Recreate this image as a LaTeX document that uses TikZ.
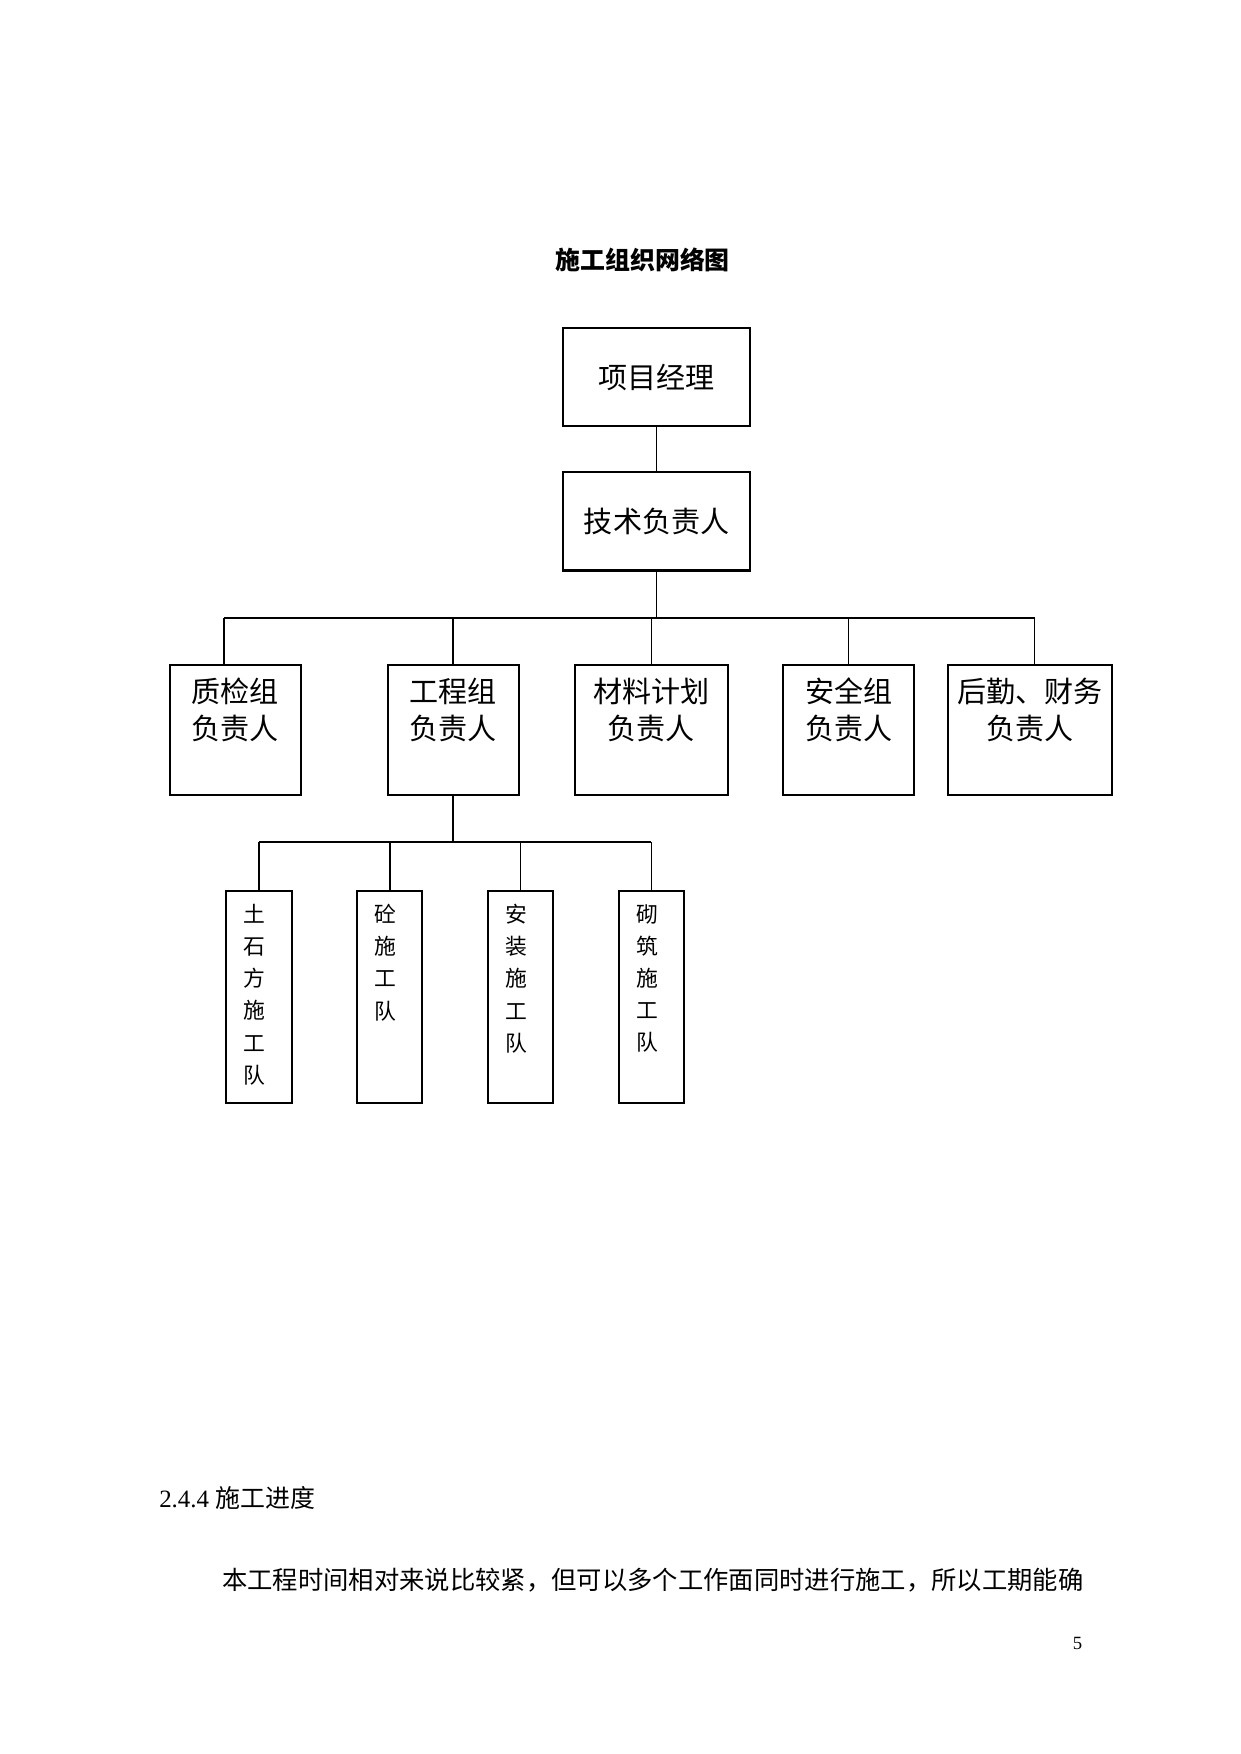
\documentclass[tikz,border=0pt]{standalone}
\usepackage{fontspec}
\setmainfont{Liberation Serif}
\newfontfamily\cjk{Noto Sans CJK SC}
\usetikzlibrary{positioning}

\begin{document}
\begin{tikzpicture}[
		x=0.1692mm, y=-0.1693mm,
		node distance = 8mm and 9.1mm,
		block/.style = {draw, rectangle, line width=1pt, inner sep=0pt, minimum width=31.6mm, minimum height=16.6mm, font=\cjk\fontsize{14}{17}\selectfont},
		group/.style = {draw, rectangle, line width=1pt, inner sep=0pt, minimum width=22.2mm, minimum height=22mm},
		team/.style = {draw, rectangle, line width=1pt, inner sep=0pt, minimum width=11.1mm, minimum height=35.9mm},
		grouptext/.style = {anchor=north, yshift=-2.4mm, inner sep=0pt, align=center, font=\cjk\fontsize{14}{17.8}\selectfont},
		teamtext/.style = {anchor=north, yshift=-2.4mm, xshift=-0.7mm, inner sep=0pt, align=center, font=\cjk\fontsize{10.5}{15.5}\selectfont},
		line/.style = {draw, line width=0.5pt},
		busline/.style = {draw, line width=1pt}
	]

	\fill[white] (0,0) rectangle (1241,1754);

	% Titulo
	\node [font=\cjk\bfseries\fontsize{12}{14}\selectfont] (titulo) at (643,260) {施工组织网络图};

	% Nodos
	\node [block] (pm) at (657,377) {项目经理};
	\node [block, below=7.5mm of pm] (tech) {技术负责人};
	\node [group, minimum width=25.9mm, below=15.6mm of tech, xshift=-0.9mm, label={[grouptext]north:材料计划\\负责人}] (cl) {};
	\node [group, left=of cl, label={[grouptext]north:工程组\\负责人}] (gc) {};
	\node [group, left=14.4mm of gc, label={[grouptext]north:质检组\\负责人}] (zj) {};
	\node [group, right=9mm of cl, label={[grouptext]north:安全组\\负责人}] (aq) {};
	\node [group, minimum width=27.7mm, right=5.4mm of aq, label={[grouptext]north:后勤、财务\\负责人}] (hq) {};
	\node [team, below=15.9mm of cl, label={[teamtext]north:砌\\筑\\施\\工\\队}] (qz) {};
	\node [team, left=10.7mm of qz, label={[teamtext]north:安\\装\\施\\工\\队}] (az) {};
	\node [team, left=10.7mm of az, label={[teamtext]north:砼\\施\\工\\队}] (tong) {};
	\node [team, left=10.7mm of tong, label={[teamtext]north:土\\石\\方\\施\\工\\队}] (ts) {};
	\coordinate [below=7.8mm of tech] (bus);
	\coordinate [below=7.8mm of gc] (subbus);
	\coordinate (zjtop) at ([xshift=-1.9mm]zj.north);
	\coordinate (hqtop) at ([xshift=0.8mm]hq.north);

	% Lineas
	\draw [line] (pm) -- (tech);
	\draw [line] (tech) -- (bus);
	\draw [busline] (zjtop |- bus) -- (hqtop |- bus);
	\draw [busline] (zjtop) -- (zjtop |- bus);
	\draw [busline] (gc) -- (gc |- bus);
	\draw [line] (cl) -- (cl |- bus);
	\draw [line] (aq) -- (aq |- bus);
	\draw [line] (hqtop) -- (hqtop |- bus);
	\draw [busline] (gc) -- (subbus);
	\draw [busline] (ts |- subbus) -- (qz |- subbus);
	\draw [busline] (ts) -- (ts |- subbus);
	\draw [busline] (tong) -- (tong |- subbus);
	\draw [line] (az) -- (az |- subbus);
	\draw [line] (qz) -- (qz |- subbus);

	% Texto
	\node [anchor=west, font=\fontsize{12}{14}\selectfont] (seccion) at (152,1498) {2.4.4 {\cjk 施工进度}};
	\node [anchor=west, font=\cjk\fontsize{12.2}{15}\selectfont] (parrafo) at (215,1580) {本工程时间相对来说比较紧，但可以多个工作面同时进行施工，所以工期能确};
	\node [font=\fontsize{9}{11}\selectfont] (pagina) at (1078,1643) {5};
\end{tikzpicture}
\end{document}
